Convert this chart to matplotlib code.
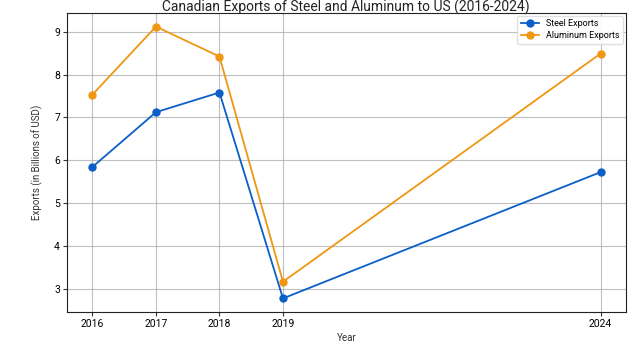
import matplotlib
matplotlib.use("Agg")
import matplotlib.pyplot as plt

years = [2016, 2017, 2018, 2019, 2024]
steel_exports = [5.84, 7.12, 7.58, 2.77, 5.72]
aluminum_exports = [7.53, 9.12, 8.42, 3.16, 8.49]

plt.rcParams['font.family'] = ['Roboto', 'DejaVu Sans']

fig = plt.figure(figsize=(6.42, 3.43), dpi=100)
ax = fig.add_axes([67 / 642, 31 / 343, (626 - 67) / 642, (312 - 13) / 343])

ax.plot(years, steel_exports, marker='o', markersize=5, linewidth=1.3,
        color='#0a5fc8', label='Steel Exports')
ax.plot(years, aluminum_exports, marker='o', markersize=5, linewidth=1.3,
        color='#ef9712', label='Aluminum Exports')

ax.set_xticks(years)
ax.set_xticklabels([str(y) for y in years])
ax.tick_params(labelsize=7.5, length=3, pad=2, color='#333333')
ax.grid(True, color='#b0b0b0', linewidth=0.8, alpha=0.8)
ax.set_xlabel('Year', fontsize=7, color='#333333', labelpad=3)
ax.set_ylabel('Exports (in Billions of USD)', fontsize=7, color='#333333', labelpad=8)
for s in ax.spines.values():
    s.set_color('#222222')

ax.legend(loc='upper right', fontsize=6.5, frameon=True, framealpha=0.9,
          edgecolor='#dddddd', handlelength=2, borderaxespad=0.3,
          labelspacing=0.3, borderpad=0.4)

fig.text(346 / 642, 1.0, 'Canadian Exports of Steel and Aluminum to US (2016-2024)',
         ha='center', va='top', fontsize=10, color='#222222')

fig.savefig('out.png', dpi=100)
